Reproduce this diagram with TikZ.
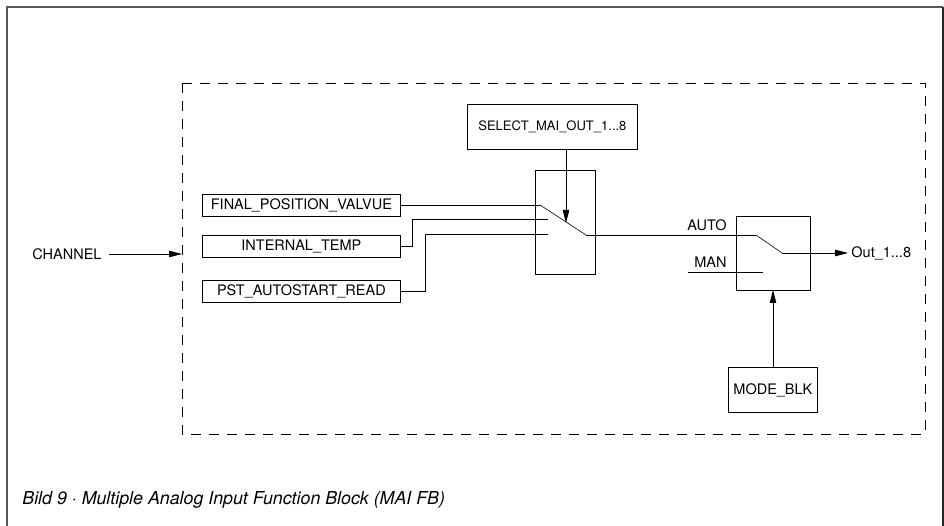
\documentclass[tikz,border=0pt]{standalone}
\usepackage{fontspec}
\setmainfont{TeX Gyre Heros}
\usetikzlibrary{arrows.meta}
\begin{document}
\begin{tikzpicture}[x=1pt,y=-1pt,
  line width=0.8pt,
  blk/.style={draw, line width=0.8pt, minimum height=22pt, inner sep=0pt, font=\fontsize{14.5}{16}\selectfont},
  lbl/.style={inner sep=0pt, font=\fontsize{14.5}{16}\selectfont},
  arr/.style={-{Triangle[length=13pt,width=6.5pt]}},
  wire/.style={line width=0.8pt}]
\useasboundingbox (0,0) rectangle (944,526);
% outer frame
\draw[gray!70!black, line width=1.3pt] (7,526) -- (7,7) -- (943,7);
\draw[black!85, line width=1.5pt] (943,7) -- (943,526);
% dashed area
\draw[dash pattern=on 10pt off 8pt, line width=0.8pt] (182,83) rectangle (925,434);
% input blocks
\node[blk, minimum width=198pt, anchor=west] (fpv) at (202,205) {FINAL\_POSITION\_VALVUE};
\node[blk, minimum width=198pt, anchor=west] (itemp) at (202,246.5) {INTERNAL\_TEMP};
\node[blk, minimum width=198pt, anchor=west] (pst) at (202,291.5) {PST\_AUTOSTART\_READ};
% select block
\node[blk, minimum width=170pt, minimum height=45pt, anchor=north west, font=\fontsize{13}{15}\selectfont] (sel) at (467,104) {SELECT\_MAI\_OUT\_1...8};
% selector switch box
\node[draw, minimum width=60pt, minimum height=104pt, inner sep=0pt, anchor=north west] (sw) at (535,170) {};
% mode switch box
\node[draw, minimum width=74pt, minimum height=74pt, inner sep=0pt, anchor=north west] (ms) at (736,216) {};
% mode blk
\node[blk, minimum width=89pt, minimum height=45pt, anchor=north west] (mode) at (728,367) {MODE\_BLK};
% contacts
\coordinate (c1) at (540,205);
\coordinate (c2) at (548,219);
\coordinate (c3) at (548,234);
\coordinate (piv) at (586,235);
\coordinate (a1) at (756,235);
\coordinate (a2) at (763,272);
\coordinate (mpiv) at (782,253);
\coordinate (out) at (848,253);
\draw[wire] (fpv.east) -- (c1);
\draw[wire] (itemp.east) -| (412,219) -- (c2);
\draw[wire] (pst.east) -| (425,234) -- (c3);
\draw[line width=0.6pt] (c1) -- (piv);
\draw[wire] (piv) -- (a1);
\draw[line width=0.6pt] (a1) -- (mpiv);
\draw[wire, arr] (mpiv) -- (out);
\draw[wire] (688,272) -- (a2);
\node[lbl, anchor=south east] (auto) at (727,231) {AUTO};
\node[lbl, anchor=south east] (man) at (727,268) {MAN};
\node[lbl, anchor=west] (outl) at (851,253) {Out\_1...8};
\coordinate (selt) at (566,223);
\draw[wire, arr] (sel.south -| selt) -- (selt);
\draw[wire, arr] (mode.north -| 773,0) -- (773,290);
% channel
\node[lbl, anchor=west] (chan) at (32,254) {CHANNEL};
\coordinate (chin) at (182,254);
\draw[wire, arr] (109,254) -- (chin);
% caption
\node[inner sep=0pt, anchor=west, font=\fontsize{17.8}{20}\selectfont\itshape] (cap) at (22,500) {Bild 9 · Multiple Analog Input Function Block (MAI FB)};
\end{tikzpicture}
\end{document}
